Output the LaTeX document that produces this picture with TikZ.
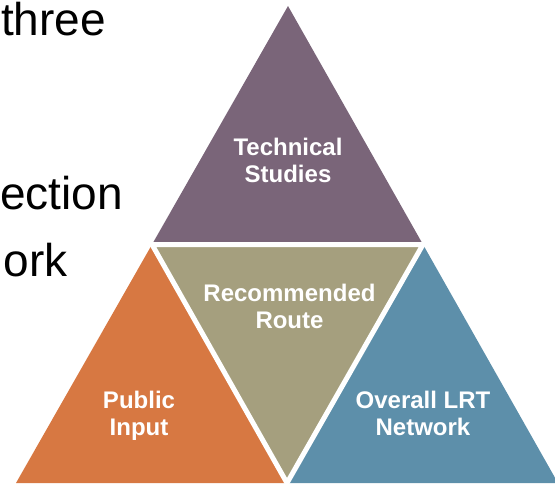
\documentclass[tikz,border=0pt]{standalone}
\usepackage{fontspec}
\setmainfont{Liberation Sans}
\usetikzlibrary{positioning}
\definecolor{techcol}{RGB}{122,101,121}
\definecolor{routecol}{RGB}{165,159,126}
\definecolor{inputcol}{RGB}{215,120,66}
\definecolor{netcol}{RGB}{93,143,170}
\tikzset{
  slide/.style={inner sep=0pt,font=\fontsize{46}{52}\selectfont},
  label/.style={inner sep=0pt,align=center,text=white,
    font=\fontsize{24}{27}\selectfont\bfseries},
  gap/.style={draw=white,line width=5pt}
}
\begin{document}
\begin{tikzpicture}[x=1pt,y=-1pt]
\clip (0,0) rectangle (555,483);
% corners and midpoints of the big triangle
\coordinate (top) at (288,6);
\coordinate (bl) at (16,483);
\coordinate (br) at (558,483);
\coordinate (ml) at (152,244.5);
\coordinate (mr) at (423,244.5);
\coordinate (mb) at (287,483);
\fill[techcol] (top)--(ml)--(mr)--cycle;
\fill[routecol] (ml)--(mr)--(mb)--cycle;
\fill[inputcol] (ml)--(bl)--(mb)--cycle;
\fill[netcol] (mr)--(mb)--(br)--cycle;
\draw[gap] (ml)--(mr)--(mb)--cycle;
\node[label] (tech) at (288,160) {Technical\\Studies};
\node[label] (route) at (289.5,306.4) {Recommended\\Route};
\node[label] (input) at (139,415.4) {Public\\Input};
\node[label] (net) at (423,413) {Overall LRT\\Network};
% slide text cut off at the left
\node[slide,anchor=base west] (three) at (1,35) {three};
\node[slide,anchor=base east] (ection) at (123,209) {ection};
\node[slide,anchor=base east] (ork) at (68,276) {ork};
\end{tikzpicture}
\end{document}
